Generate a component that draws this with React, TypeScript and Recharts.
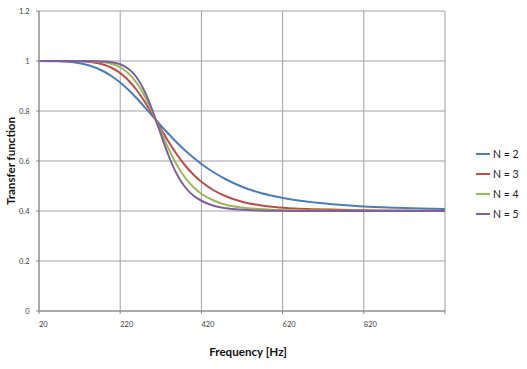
import React from 'react';
import { LineChart, Line, XAxis, YAxis, CartesianGrid, Legend } from 'recharts';

const freqs = [20, 60, 100, 140, 180, 200, 220, 240, 260, 280, 300, 320, 340, 360, 380, 400, 420, 450, 480, 520, 560, 600, 650, 700, 760, 820, 900, 960, 1020];
const n2 = [1.0, 0.999, 0.996, 0.984, 0.958, 0.938, 0.914, 0.885, 0.852, 0.816, 0.779, 0.742, 0.707, 0.673, 0.642, 0.614, 0.588, 0.555, 0.527, 0.497, 0.475, 0.459, 0.444, 0.434, 0.425, 0.418, 0.413, 0.410, 0.408];
const n3 = [1.0, 1.0, 1.0, 0.997, 0.985, 0.972, 0.952, 0.923, 0.885, 0.838, 0.785, 0.729, 0.675, 0.625, 0.582, 0.546, 0.517, 0.483, 0.459, 0.437, 0.424, 0.416, 0.410, 0.407, 0.405, 0.403, 0.402, 0.401, 0.401];
const n4 = [1.0, 1.0, 1.0, 0.999, 0.995, 0.988, 0.975, 0.951, 0.914, 0.860, 0.792, 0.718, 0.646, 0.583, 0.533, 0.496, 0.469, 0.442, 0.425, 0.414, 0.408, 0.404, 0.403, 0.402, 0.401, 0.401, 0.400, 0.400, 0.400];
const n5 = [1.0, 1.0, 1.0, 1.0, 0.998, 0.995, 0.987, 0.969, 0.936, 0.879, 0.800, 0.707, 0.618, 0.546, 0.495, 0.462, 0.441, 0.421, 0.411, 0.405, 0.402, 0.401, 0.400, 0.400, 0.400, 0.400, 0.400, 0.400, 0.400];

const seriesNames = ['N = 2', 'N = 3', 'N = 4', 'N = 5'];
const seriesKeys = ['n2', 'n3', 'n4', 'n5'];
const seriesColors = ['#4A7EBB', '#BE4B48', '#98B954', '#7D60A0'];

const xTicks = [20, 220, 420, 620, 820, 1020];
const yTicks = [0, 0.2, 0.4, 0.6, 0.8, 1, 1.2];

const data = freqs.map((f, i) => ({ f, n2: n2[i], n3: n3[i], n4: n4[i], n5: n5[i] }));

const FONT = 'Lato, "Open Sans", sans-serif';

const XTick = (props: any) => {
  const { x, y, payload } = props;
  if (payload.value === 1020) return null;
  return (
    <text x={x} y={y + 6} dy="0.71em" textAnchor="start" fontSize={7.5} fill="#404040" fontFamily={FONT}>
      {payload.value}
    </text>
  );
};

const YTick = (props: any) => {
  const { y, payload } = props;
  return (
    <text x={29.5} y={y} dy="0.355em" textAnchor="end" fontSize={7.5} fill="#404040" fontFamily={FONT}>
      {String(payload.value)}
    </text>
  );
};

const LegendContent = () => (
  <div style={{ fontFamily: FONT, fontSize: 10.5, color: '#222' }}>
    {seriesNames.map((n, i) => (
      <div key={n} style={{ height: 19.9, display: 'flex', alignItems: 'center' }}>
        <svg width={17} height={4} style={{ display: 'block' }}>
          <line x1={0} y1={2} x2={14} y2={2} stroke={seriesColors[i]} strokeWidth={2} />
        </svg>
        <span style={{ whiteSpace: 'nowrap' }}>{n}</span>
      </div>
    ))}
  </div>
);

export default function App() {
  return (
    <div style={{ position: 'absolute', left: 0, top: 0, background: '#fff' }}>
      <LineChart width={527} height={369} data={data} margin={{ top: 11, right: 82, bottom: 18, left: 9 }}>
        <CartesianGrid stroke="#a0a0a0" strokeWidth={1} />
        <XAxis
          dataKey="f"
          type="number"
          domain={[20, 1020]}
          ticks={xTicks}
          interval={0}
          height={40}
          tickSize={3}
          stroke="#868686"
          tick={<XTick />}
          label={{
            content: (p: any) => {
              const vb = p.viewBox;
              return (
                <text x={vb.x + vb.width / 2 + 6} y={352} dy="0.355em" textAnchor="middle" fontSize={11.6} fontWeight="bold" fill="#111" fontFamily={FONT}>
                  Frequency [Hz]
                </text>
              );
            },
          }}
        />
        <YAxis
          type="number"
          domain={[0, 1.2]}
          ticks={yTicks}
          interval={0}
          width={30}
          tickSize={3}
          stroke="#868686"
          tick={<YTick />}
          label={{
            content: (p: any) => {
              const vb = p.viewBox;
              const cy = vb.y + vb.height / 2;
              return (
                <text x={11} y={cy} dy="0.355em" transform={`rotate(-90 11 ${cy})`} textAnchor="middle" fontSize={11.6} fontWeight="bold" fill="#111" fontFamily={FONT}>
                  Transfer function
                </text>
              );
            },
          }}
        />
        <Legend
          layout="horizontal"
          align="center"
          verticalAlign="middle"
          content={<LegendContent />}
          wrapperStyle={{ position: 'absolute', left: 476, top: 144, width: 60, height: 80 }}
        />
        {seriesKeys.map((k, i) => (
          <Line
            key={k}
            dataKey={k}
            name={seriesNames[i]}
            type="monotone"
            stroke={seriesColors[i]}
            strokeWidth={2}
            dot={false}
            isAnimationActive={false}
          />
        ))}
      </LineChart>
    </div>
  );
}
